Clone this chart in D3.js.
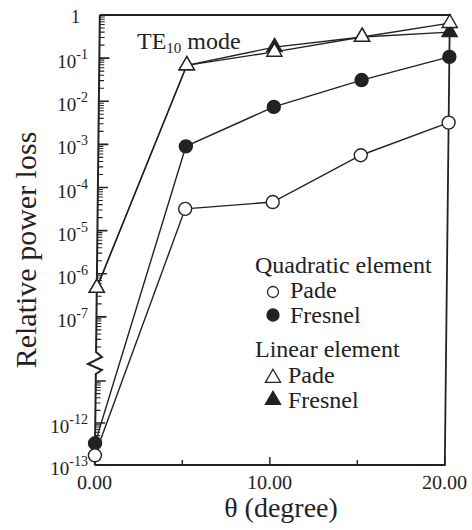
<!DOCTYPE html>
<html>
<head>
<meta charset="utf-8">
<script src="https://cdn.jsdelivr.net/npm/d3@7.9.0/dist/d3.min.js"></script>
<style>
  body { margin: 0; background: #fff; }
  svg text { font-family: "Liberation Serif", "Times New Roman", "DejaVu Serif", serif; }
</style>
</head>
<body>
<svg id="chart" width="472" height="530"></svg>
<script>
// values
const theta = [0, 5, 10, 15, 20];
const quadPade = [1.7e-13, 3.2e-5, 4.6e-5, 5.6e-4, 3.2e-3];
const quadFresnel = [3.3e-13, 9.0e-4, 7.4e-3, 3.1e-2, 0.107];
const linPade = [4.7e-7, 0.068, 0.14, 0.31, 0.65];
const linFresnel = [4.7e-7, 0.068, 0.18, 0.31, 0.40];

const xTicks = [0, 5, 10, 15, 20];
const xLabels = [0, 10, 20];
const yLabelExp = [0, -1, -2, -3, -4, -5, -6, -7, -12, -13];
const upperMajorExp = [0, -1, -2, -3, -4, -5, -6, -7];
const lowerMajorExp = [-11, -12, -13];

const ink = '#222';
const svg = d3.select('#chart')
    .attr('font-family', '"Liberation Serif", "Times New Roman", "DejaVu Serif", serif');

const x = d3.scaleLinear().domain([0, 20]).range([100, 450]);
// broken log axis: two pieces with the same decade size
const yUp = d3.scaleLog().domain([1e-8, 1]).range([360, 15]);
const yLo = d3.scaleLog().domain([1e-13, 1e-11]).range([465, 381]);
const y = v => v >= 1e-9 ? yUp(v) : yLo(v);

// the scan is slightly sheared, so the plot box leans a little
const g = svg.append('g').attr('transform', 'skewX(-0.64)');

// frame: top, right, bottom
g.append('path')
    .attr('d', `M${x(0)},${yUp(1)} H${x(20)} V${yLo(1e-13)} H${x(0)}`)
    .attr('fill', 'none').attr('stroke', ink).attr('stroke-width', 1.8);

// left axis with the break zigzag
const x0 = x(0);
g.append('path')
    .attr('d', `M${x0},${yUp(1)} V352 L${x0 + 6},357 L${x0 - 8},364 L${x0 + 6},370 L${x0},374 V${yLo(1e-13)}`)
    .attr('fill', 'none').attr('stroke', ink).attr('stroke-width', 2);

// y ticks
let minorUp = [];
for (let k = -8; k <= -1; k++) {
    for (let m = 2; m <= 9; m++) minorUp.push(m * Math.pow(10, k));
}
let minorLo = [];
for (let k = -13; k <= -12; k++) {
    for (let m = 2; m <= 9; m++) minorLo.push(m * Math.pow(10, k));
}
minorUp.forEach(v => {
    g.append('line').attr('x1', x0).attr('x2', x0 + 5).attr('y1', yUp(v)).attr('y2', yUp(v))
        .attr('stroke', ink).attr('stroke-width', 1.1);
});
minorLo.forEach(v => {
    g.append('line').attr('x1', x0).attr('x2', x0 + 5).attr('y1', yLo(v)).attr('y2', yLo(v))
        .attr('stroke', ink).attr('stroke-width', 1.1);
});
upperMajorExp.forEach(e => {
    const yy = yUp(Math.pow(10, e));
    g.append('line').attr('x1', x0).attr('x2', x0 + 10).attr('y1', yy).attr('y2', yy)
        .attr('stroke', ink).attr('stroke-width', 1.6);
});
lowerMajorExp.forEach(e => {
    const yy = yLo(Math.pow(10, e));
    g.append('line').attr('x1', x0).attr('x2', x0 + 10).attr('y1', yy).attr('y2', yy)
        .attr('stroke', ink).attr('stroke-width', 1.6);
});

// x ticks, pointing inward
xTicks.forEach(t => {
    const len = t % 10 === 0 ? 8 : 5;
    g.append('line').attr('x1', x(t)).attr('x2', x(t))
        .attr('y1', yLo(1e-13)).attr('y2', yLo(1e-13) - len)
        .attr('stroke', ink).attr('stroke-width', 1.4);
});
xLabels.forEach(t => {
    g.append('text').attr('x', x(t)).attr('y', 489)
        .attr('text-anchor', 'middle').attr('font-size', 20).attr('fill', ink)
        .text(d3.format('.2f')(t));
});

// data series
const series = [
    { vals: linFresnel, shape: 'tri', fill: ink },
    { vals: linPade, shape: 'tri', fill: '#fff' },
    { vals: quadFresnel, shape: 'circ', fill: ink },
    { vals: quadPade, shape: 'circ', fill: '#fff' }
];

const line = d3.line().x((d, i) => x(theta[i])).y(d => y(d));
series.forEach(s => {
    g.append('path').attr('d', line(s.vals))
        .attr('fill', 'none').attr('stroke', ink).attr('stroke-width', 1.4);
});

const tri = d3.symbol().type(d3.symbolTriangle).size(100);
series.forEach(s => {
    s.vals.forEach((v, i) => {
        if (s.shape === 'tri') {
            g.append('path').attr('d', tri())
                .attr('transform', `translate(${x(theta[i])},${y(v)})`)
                .attr('fill', s.fill).attr('stroke', ink).attr('stroke-width', 1.4);
        } else {
            g.append('circle').attr('cx', x(theta[i])).attr('cy', y(v)).attr('r', 6.5)
                .attr('fill', s.fill).attr('stroke', ink).attr('stroke-width', 1.4);
        }
    });
});

// y tick labels
yLabelExp.forEach(e => {
    const v = Math.pow(10, e);
    const yy = y(v);
    if (e === 0) {
        svg.append('text').attr('x', 80).attr('y', yy + 8)
            .attr('text-anchor', 'end').attr('font-size', 18).attr('fill', ink).text('1');
        return;
    }
    const t = svg.append('text').attr('x', 88).attr('y', yy + 10)
        .attr('text-anchor', 'end').attr('font-size', 19).attr('fill', ink);
    t.append('tspan').text('10');
    t.append('tspan').attr('font-size', 14).attr('dy', -9).text(String(e));
});

// title inside plot
const title = svg.append('text').attr('x', 137).attr('y', 49)
    .attr('font-size', 24).attr('fill', ink);
title.append('tspan').text('TE');
title.append('tspan').attr('font-size', 15).attr('dy', 4).text('10');
title.append('tspan').attr('dy', -4).text(' mode');

// legend
const legend = svg.append('g').attr('fill', ink);
legend.append('text').attr('x', 255).attr('y', 273).attr('font-size', 24).text('Quadratic element');
legend.append('circle').attr('cx', 273).attr('cy', 292).attr('r', 5.5)
    .attr('fill', '#fff').attr('stroke', ink).attr('stroke-width', 1.3);
legend.append('text').attr('x', 290).attr('y', 298).attr('font-size', 24).text('Pade');
legend.append('circle').attr('cx', 273).attr('cy', 315).attr('r', 6)
    .attr('fill', ink).attr('stroke', ink).attr('stroke-width', 1.3);
legend.append('text').attr('x', 290).attr('y', 323).attr('font-size', 24).text('Fresnel');
legend.append('text').attr('x', 255).attr('y', 357).attr('font-size', 24).text('Linear element');
legend.append('path').attr('d', tri()).attr('transform', 'translate(273,378)')
    .attr('fill', '#fff').attr('stroke', ink).attr('stroke-width', 1.3);
legend.append('text').attr('x', 288).attr('y', 383).attr('font-size', 24).text('Pade');
legend.append('path').attr('d', tri()).attr('transform', 'translate(273,400)')
    .attr('fill', ink).attr('stroke', ink).attr('stroke-width', 1.3);
legend.append('text').attr('x', 288).attr('y', 408).attr('font-size', 24).text('Fresnel');

// axis titles
svg.append('text').attr('transform', 'translate(36,250) rotate(-90)')
    .attr('text-anchor', 'middle').attr('font-size', 30).attr('fill', ink)
    .text('Relative power loss');
svg.append('text').attr('x', 281).attr('y', 517)
    .attr('text-anchor', 'middle').attr('font-size', 28).attr('fill', ink)
    .text('θ (degree)');
</script>
</body>
</html>
